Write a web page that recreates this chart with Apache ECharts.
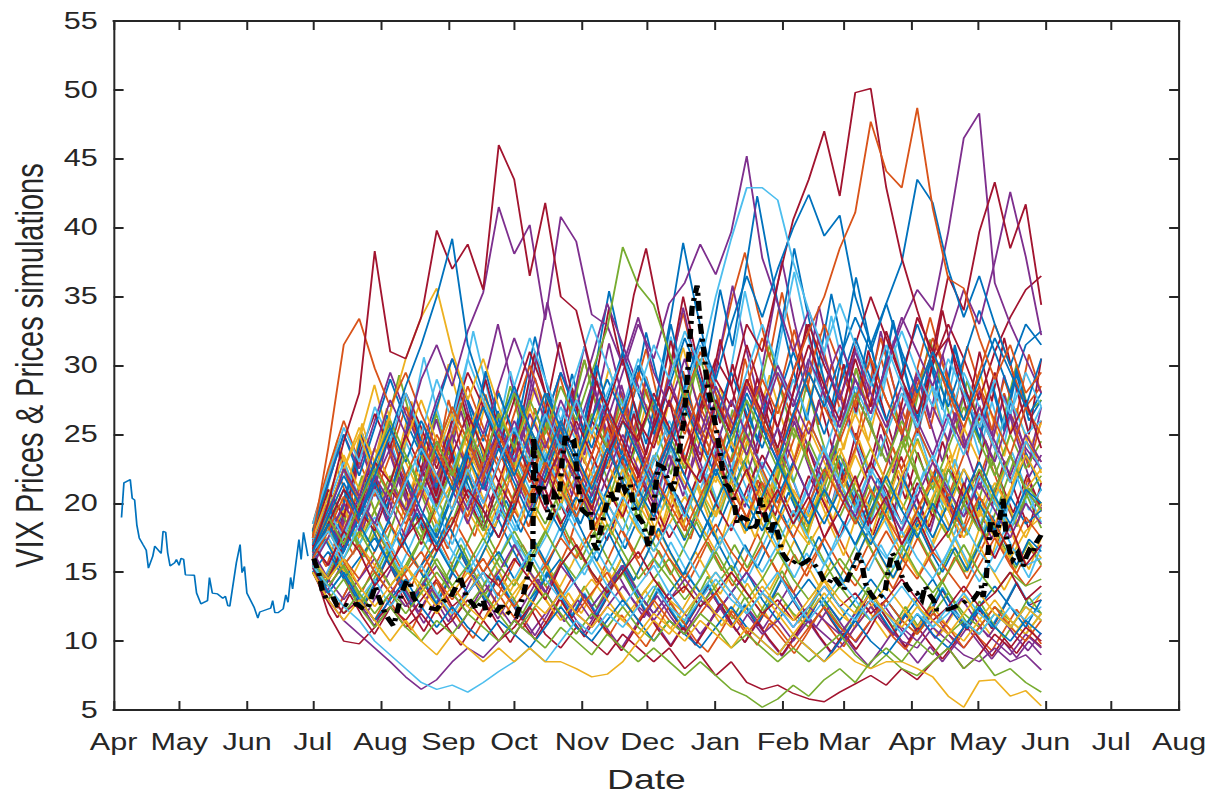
<!DOCTYPE html>
<html><head><meta charset="utf-8">
<script src="https://cdn.jsdelivr.net/npm/echarts@6/dist/echarts.min.js"></script>
<style>
html,body{margin:0;padding:0;background:#fff;overflow:hidden;width:1215px;height:798px}
#wrap{width:1215px;height:798px;overflow:hidden}
#chart{width:914px;height:798px;transform:scaleX(1.3293);transform-origin:0 0}
</style></head><body><div id="wrap"><div id="chart"></div></div>
<script>
// ---- axis ticks (days since Apr 1) ----
const monthStarts = [0,30,61,91,122,153,183,214,244,275,306,334,365,395,426,456,487];
const monthLabels = ['Apr','May','Jun','Jul','Aug','Sep','Oct','Nov','Dec','Jan','Feb','Mar','Apr','May','Jun','Jul','Aug'];
const yTicks = {min:5, max:55, step:5};

// ---- historical VIX (Apr-Jun) ----
const histDays = [3.6,4.7,7.6,8.5,9.6,10.6,11.7,13.4,14.9,15.9,17.9,18.8,21.7,22.6,23.8,24.7,25.8,27.9,28.7,29.9,30.8,32.0,32.8,36.9,37.9,39.9,42.9,43.8,45.1,47.5,49.9,51.1,52.2,53.1,56.1,57.8,58.7,59.8,60.9,64.2,65.9,66.8,71.8,72.7,73.7,75.1,77.5,78.7,79.7,80.9,81.8,84.7,85.7,86.8,88.8];
const histValues = [18.97,21.48,21.72,20.36,20.24,18.44,17.49,17.01,16.60,15.29,16.17,16.89,16.36,17.97,17.89,16.41,15.45,15.69,15.93,15.50,16.00,15.93,14.81,14.78,13.49,12.70,12.94,14.61,13.49,13.42,13.11,13.25,12.58,12.54,15.69,17.01,14.97,15.41,13.49,12.46,11.67,12.11,12.39,12.94,12.06,12.06,12.34,13.35,12.82,14.62,13.78,17.37,15.93,17.89,16.17];

// ---- realised VIX (black dash-dot) ----
const actualDays = [91.5,93.8,95.3,97.5,100.6,102.1,105.1,108.2,111.2,113.5,115.7,118.0,119.6,121.1,123.3,124.8,127.9,129.4,131.7,134.0,135.5,137.0,139.3,141.6,144.6,147.6,150.7,153.7,156.7,158.3,161.3,164.3,165.8,168.9,170.4,173.4,176.5,178.0,181.0,184.0,187.1,190.1,191.6,192.0,193.1,194.6,196.1,197.6,199.1,200.6,201.4,203.6,205.1,206.6,208.1,210.4,212.7,214.2,216.4,217.9,219.4,221.0,222.5,224.7,227.0,229.3,231.6,233.8,236.1,237.6,239.9,242.2,244.5,246.0,247.5,249.0,251.3,253.6,255.8,258.1,260.4,262.0,264.4,266.7,268.2,269.8,271.3,273.6,275.9,278.2,279.7,281.2,283.4,285.0,287.3,289.6,291.8,294.1,295.7,297.2,298.7,300.2,301.8,304.0,305.6,307.8,310.1,312.4,314.7,317.7,320.0,322.3,324.6,326.8,329.1,331.4,333.7,336.0,338.2,340.5,342.0,343.6,345.8,348.1,350.4,352.7,354.2,355.7,357.2,358.7,360.3,362.5,364.8,367.1,369.4,370.9,372.4,374.7,376.2,378.5,381.5,384.5,387.5,390.6,392.8,395.1,396.6,397.4,398.9,399.7,400.9,401.9,403.5,405.0,406.5,408.0,409.5,411.0,413.3,415.6,417.1,418.6,420.1,421.6,423.9];
const actualValues = [16.0,14.9,13.7,13.0,13.1,12.6,12.7,12.5,12.7,12.4,12.3,13.2,14.0,13.2,12.3,11.8,11.1,12.0,13.5,14.4,14.2,13.2,12.6,12.5,12.4,12.3,12.9,13.1,14.0,14.7,13.2,12.7,12.3,13.0,12.0,11.8,12.5,12.5,12.0,11.8,13.2,15.4,16.1,24.8,21.4,20.9,21.4,20.2,18.8,19.5,20.7,20.2,23.3,25.0,24.3,24.5,20.9,19.5,19.2,19.5,17.1,16.6,18.0,19.5,20.9,20.0,21.9,20.9,21.4,19.7,19.0,18.5,16.8,18.0,20.9,22.8,22.6,21.6,20.9,23.3,25.7,28.6,34.2,35.8,32.9,31.0,28.6,26.9,25.0,22.6,21.4,21.2,20.4,18.5,19.0,18.8,18.0,18.5,20.4,19.5,18.5,17.8,18.8,17.6,16.4,15.9,15.6,15.9,15.6,15.9,15.6,15.2,14.4,14.2,14.7,14.2,13.7,14.7,15.4,16.4,15.6,14.2,13.5,13.0,13.2,13.7,15.2,16.4,16.1,15.4,14.7,14.0,13.5,13.5,13.0,14.0,13.5,13.0,12.3,12.3,12.3,12.5,12.7,13.0,13.0,13.5,14.0,13.2,14.7,16.4,18.8,18.3,17.6,18.8,20.4,17.6,16.6,15.9,16.4,15.4,16.1,16.6,16.4,17.1,17.7];

// ---- simulated paths (equally spaced samples, Jul 1 -> end of May) ----
const simStartDay = 91, simEndDay = 424;
const simO1=[16.0,18.0,20.5,18.5,21.0,19.0,22.0,24.5,22.0,19.5,22.5,25.0,22.5,20.0,23.0,25.5,23.0,20.5,23.5,26.5,24.0,21.5,24.5,27.5,25.0,28.0,25.5,23.0,26.0,29.0,26.5,29.5,32.5,35.0,38.5,41.1,47.7,44.1,42.9,48.7,41.4,36.3,35.6,32.0,29.0,31.5,28.0,29.5];
const simO2=[17.5,24.0,31.5,33.4,29.8,27.0,29.5,26.5,24.0,27.0,24.5,22.0,25.0,22.5,20.5,23.0,21.0,19.0,21.5,24.0,21.5,19.5,22.0,20.0,18.0,20.5,23.0,21.0,19.0,21.5,19.5,17.5,20.0,22.5,20.5,18.5,21.0,19.0,17.0,19.5,22.0,20.0,18.0,20.5,18.5,16.5,19.0,17.5];
const simO3=[16.5,19.5,22.5,20.0,23.0,20.5,18.5,21.0,24.0,21.5,19.0,22.0,25.0,22.5,20.0,23.0,26.0,23.5,21.0,24.0,27.0,24.5,22.0,25.0,28.0,25.5,23.0,26.0,29.0,26.0,23.5,26.5,29.5,27.0,24.5,27.5,30.5,27.5,25.0,28.0,31.0,28.0,25.5,28.5,26.0,23.5,27.0,25.0];
const simO4=[15.5,14.0,15.5,17.0,15.0,13.5,15.0,16.5,14.5,13.0,14.5,16.0,14.0,12.5,14.0,15.5,13.5,12.0,13.5,15.0,13.0,11.5,13.0,11.5,10.5,12.0,13.5,12.0,10.5,12.0,11.0,9.5,11.0,12.5,11.0,10.0,11.5,13.0,11.5,10.5,12.0,11.0,9.5,11.0,12.5,11.0,10.0,11.5];
const simO5=[17.0,20.0,18.0,21.0,24.0,21.5,19.0,22.0,25.0,22.5,20.0,23.0,26.5,24.0,21.5,24.5,22.0,19.5,22.5,25.5,23.0,20.5,23.5,21.0,24.0,27.0,24.5,22.0,25.0,22.5,20.0,23.0,26.0,23.5,21.0,24.0,27.5,25.0,22.5,25.5,23.0,20.5,23.5,26.5,24.0,21.5,24.5,23.0];
const simO6=[16.0,18.0,16.0,14.5,16.5,18.5,16.5,15.0,17.0,19.0,17.0,15.0,17.0,19.5,17.5,15.5,17.5,16.0,18.0,20.0,18.0,16.0,18.0,16.0,14.5,16.5,18.5,16.5,15.0,17.0,15.0,13.5,15.5,17.5,15.5,14.0,16.0,18.0,16.0,14.5,16.5,15.0,13.5,15.5,17.5,15.5,14.0,15.5];
const simO7=[18.5,22.5,26.0,23.0,20.5,23.5,27.0,24.0,21.5,25.0,28.5,25.5,23.0,26.5,30.0,27.0,24.0,27.5,25.0,22.5,26.0,29.5,26.5,24.0,27.5,31.0,28.0,25.0,28.5,32.0,29.0,26.0,29.5,33.0,30.0,27.0,30.5,27.5,25.0,28.5,32.0,29.0,26.0,29.5,33.0,30.0,27.0,28.5];
const simO8=[16.8,19.2,22.5,19.8,24.1,21.3,26.0,23.2,20.4,25.7,22.9,27.5,24.1,21.0,23.8,28.2,25.5,22.1,26.9,24.0,29.3,26.2,23.0,21.5,25.8,23.6,27.9,31.2,27.4,24.8,29.6,26.1,23.5,27.8,25.2,30.5,27.0,24.3,28.9,32.6,29.0,25.7,30.1,27.3,24.6,28.4,32.0,28.7,26.1,29.9,33.5,30.2,27.0,31.4,28.5,25.3,29.0,26.4,30.8,28.0];
const simO9=[15.6,13.9,12.4,14.1,12.8,11.5,13.2,11.9,10.8,12.6,14.3,12.7,11.3,10.2,11.8,13.5,12.1,10.9,12.4,11.2,13.0,14.6,12.9,11.6,10.4,11.9,10.7,9.6,11.1,12.8,11.4,10.1,9.2,10.6,12.2,10.9,9.7,11.3,10.2,9.1,10.5,12.0,10.8,9.6,11.2,12.9,11.5,10.3,9.4,10.9,12.5,11.1,9.9,11.4,10.2,9.3,10.8,12.3,11.0,9.8];
const simO10=[17.2,15.4,18.1,16.3,19.4,17.5,15.8,18.6,21.1,18.9,16.7,19.8,17.6,20.7,23.4,20.8,18.3,21.5,19.2,17.1,20.3,18.0,21.6,24.2,21.3,18.8,22.1,19.6,17.4,20.5,23.3,20.6,18.2,21.7,19.3,22.8,25.6,22.4,19.7,23.0,20.4,18.1,21.2,24.1,21.4,18.9,22.3,19.8,17.5,20.6,23.5,20.9,18.6,21.8,19.4];
const simO11=[16.2,18.9,16.8,20.1,17.9,21.4,24.6,21.8,19.3,22.7,20.2,23.9,21.1,24.8,27.9,24.6,21.8,25.4,22.6,26.3,23.5,27.1,30.4,27.0,24.2,28.1,25.3,29.2,26.1,30.2,33.8,30.0,26.8,31.1,35.0,38.2,34.1,30.6,35.3,31.4,28.1,32.3,29.0,25.9,29.8,26.7,30.6,27.4,24.5,28.3,25.4,29.2,26.2,23.5,27.1,24.3,28.0,25.1,22.6,26.0];
const simO12=[16.1,14.6,16.5,15.0,13.6,15.4,17.2,15.5,14.0,15.9,17.8,16.0,14.4,16.3,14.7,13.3,15.1,17.0,15.3,13.8,15.6,17.5,15.8,14.2,16.1,18.1,16.3,14.7,16.6,15.0,13.5,15.3,17.2,15.5,14.0,15.8,17.8,16.0,14.4,16.3,14.7,16.6,18.6,16.8,15.1,17.0,15.3,13.8,15.6,17.5,15.8,14.2,16.1,14.5,16.4,18.3,16.5,14.9,16.8,15.6];
const simY1=[15.0,13.0,11.5,13.0,11.5,10.0,11.5,10.0,9.0,10.5,9.5,8.5,9.5,8.5,9.5,8.5,8.5,8.0,7.4,7.6,8.5,10.0,11.5,10.5,12.0,13.5,12.0,11.0,12.5,14.0,12.5,11.5,13.0,14.5,13.0,12.0,13.5,12.0,11.0,12.5,11.5,10.5,12.0,13.5,12.0,11.0,12.5,11.5];
const simY2=[16.0,14.5,16.0,14.0,12.5,14.0,15.5,14.0,12.5,14.0,12.5,11.5,13.0,14.5,13.0,12.0,13.5,12.0,11.0,12.5,11.5,10.5,12.0,11.0,10.0,11.5,10.5,9.5,11.0,10.0,9.0,10.5,9.5,8.5,9.5,8.5,8.0,8.5,8.5,8.0,7.4,6.0,5.2,7.1,7.2,6.0,6.4,5.3];
const simY3=[17.0,19.5,22.5,25.5,23.0,26.5,30.5,33.5,35.6,31.0,27.5,30.5,27.0,24.0,27.0,24.0,21.5,24.5,22.0,19.5,22.5,20.0,18.0,21.0,23.5,21.0,19.0,21.5,24.5,22.0,19.5,22.5,25.5,23.0,20.5,23.5,21.0,19.0,22.0,24.5,22.0,19.5,22.5,20.5,18.5,21.0,23.5,21.5];
const simY4=[16.5,19.5,22.5,25.0,22.0,25.5,23.0,20.5,23.5,26.5,24.0,21.5,24.5,22.0,25.0,28.0,25.0,22.5,25.5,23.0,20.5,23.5,21.0,24.0,27.0,24.0,21.5,24.5,22.0,19.5,22.5,25.5,23.0,20.5,23.5,26.5,24.0,21.5,24.5,22.0,19.5,22.5,25.5,23.0,20.5,23.5,21.0,22.5];
const simY5=[17.5,20.5,23.5,21.0,24.0,21.5,24.5,27.5,24.5,22.0,25.0,28.0,25.0,22.5,25.5,23.0,20.5,23.0,21.0,23.5,26.0,23.5,21.0,23.5,21.5,19.5,22.0,20.0,22.5,20.5,18.5,21.0,19.0,21.5,24.0,21.5,19.5,22.0,20.0,18.0,20.5,23.0,21.0,19.0,21.5,19.5,17.5,20.0];
const simY6=[15.5,14.0,15.5,17.0,15.5,14.0,15.5,13.5,12.0,13.5,15.0,13.5,12.0,13.5,15.0,13.0,11.5,13.0,14.5,13.0,11.5,13.0,14.5,13.0,12.0,13.5,15.0,13.5,12.0,13.5,12.0,10.5,12.0,13.5,12.0,11.0,12.5,14.0,12.5,11.0,12.5,11.0,10.0,11.5,13.0,11.5,10.5,12.0];
const simY7=[16.0,17.5,19.5,17.5,19.5,21.5,19.5,17.5,19.5,21.5,19.5,17.5,20.0,22.5,20.0,18.0,20.0,22.0,20.0,18.0,20.0,18.0,16.5,18.5,20.5,18.5,16.5,18.5,20.5,18.5,16.5,18.5,17.0,19.0,21.0,19.0,17.0,19.0,17.5,19.5,21.5,19.5,17.5,19.5,17.5,16.0,18.0,19.0];
const simY8=[16.4,18.3,20.7,18.4,21.2,18.9,16.9,19.5,22.3,19.8,17.6,20.4,23.2,20.6,18.3,21.0,18.7,21.6,24.5,21.8,19.4,22.3,19.9,17.7,20.5,23.4,20.8,18.5,21.3,24.2,21.6,19.2,22.1,19.7,17.5,20.2,23.1,20.6,18.3,21.1,18.8,21.7,24.6,21.9,19.5,22.4,20.0,17.8,20.6,23.5,20.9,18.6,21.4,19.1,22.0,24.9,22.2];
const simY9=[17.0,20.6,24.3,21.5,25.8,22.9,26.9,23.8,27.4,24.4,21.7,25.1,22.3,26.0,23.1,20.6,24.0,21.4,18.9,22.1,19.6,23.0,20.5,18.2,21.3,18.9,22.2,19.7,17.5,20.6,18.3,21.5,19.1,17.0,20.0,17.8,20.9,18.6,16.6,19.5,17.4,20.4,18.2,16.2,19.0,16.9,19.9,17.7,15.8,18.6,16.6,19.5,17.4,15.5,18.2,16.2,19.1,17.0,15.2,17.5];
const simY10=[15.8,17.6,15.9,14.3,16.1,17.9,16.1,14.5,16.3,14.7,16.5,18.4,16.6,14.9,16.8,15.1,13.6,15.3,17.1,15.4,13.9,15.6,17.5,15.8,14.2,16.0,14.4,16.2,18.1,16.3,14.7,16.5,14.9,13.4,15.1,16.9,15.2,13.7,15.4,17.3,15.6,14.0,15.8,14.2,16.0,17.9,16.1,14.5,16.3,14.7,16.5,18.5,16.7,15.0,16.9,15.2,13.7,15.4,17.2,16.0];
const simY11=[18.1,21.3,24.6,21.9,25.3,28.6,25.2,22.4,25.9,23.0,26.6,30.1,26.7,23.7,27.3,24.3,21.6,25.0,28.4,25.2,22.4,25.8,22.9,26.4,29.8,26.5,23.6,27.2,24.2,27.9,31.3,27.8,24.7,28.4,25.3,22.5,25.9,29.3,26.1,23.2,26.7,30.2,26.9,23.9,27.5,24.5,28.2,31.6,28.1,25.0,28.7,25.5,22.7,26.2,29.6,26.3,23.4,26.9,24.0,25.8];
const simY12=[16.0,14.3,16.1,14.4,12.8,14.5,16.3,14.5,12.9,14.6,13.0,11.6,13.2,14.9,13.3,11.8,13.4,15.1,13.4,11.9,13.5,12.0,13.6,15.3,13.6,12.1,13.7,12.2,10.9,12.4,14.0,12.5,11.1,12.6,14.2,12.6,11.2,12.7,11.3,12.8,14.4,12.8,11.4,12.9,11.5,10.2,11.6,13.1,11.7,10.4,11.8,13.3,11.8,10.5,11.9,10.6,12.0,13.5];
const simP1=[16.5,19.0,22.5,20.5,24.0,27.5,25.0,29.0,31.5,28.5,32.5,35.3,41.5,38.1,40.2,33.3,40.8,39.0,33.7,32.9,30.0,33.5,29.5,27.0,30.5,26.5,24.0,27.5,25.0,22.5,25.5,23.0,20.5,23.5,21.0,19.0,22.0,20.0,18.0,20.5,23.0,21.0,19.0,21.5,19.5,17.5,20.0,18.5];
const simP2=[17.0,15.5,18.0,20.5,18.5,21.5,19.5,22.0,24.5,22.0,19.5,22.5,25.5,23.0,26.5,24.0,27.5,25.0,28.5,26.0,29.5,33.0,30.5,34.5,36.0,38.8,36.6,39.7,45.2,37.8,34.5,31.0,34.0,30.5,27.5,31.0,28.0,25.5,28.5,26.0,23.5,26.5,24.0,27.0,24.5,22.0,25.0,23.0];
const simP3=[16.0,18.5,16.5,19.5,22.0,20.0,17.5,20.5,23.5,21.0,18.5,21.5,24.5,22.0,19.5,22.5,25.5,23.0,20.5,23.5,26.5,24.0,21.5,24.5,27.5,25.0,28.5,26.0,23.5,27.0,30.0,27.5,25.0,28.5,31.5,29.0,26.5,30.0,33.0,35.5,34.0,39.7,46.5,48.3,36.0,33.0,30.5,28.0];
const simP4=[15.5,17.5,20.0,18.0,21.5,24.0,21.5,19.0,22.0,25.0,22.5,20.0,23.0,26.0,23.5,21.0,24.0,21.5,19.0,22.0,25.0,22.5,20.0,23.5,21.0,24.5,27.5,25.0,28.5,26.0,29.5,27.0,30.5,28.0,25.5,29.0,26.5,30.0,33.5,31.0,28.5,32.0,35.5,33.0,37.5,42.6,37.9,32.2];
const simP5=[15.0,13.0,11.5,10.5,9.5,8.5,7.4,6.5,7.2,8.5,9.5,8.8,10.0,11.5,10.5,12.0,13.5,12.0,11.0,12.5,14.0,12.5,11.5,13.0,14.5,13.0,12.0,13.5,15.0,13.5,12.5,11.0,12.5,11.5,10.5,12.0,13.5,12.0,11.0,10.0,11.5,10.5,9.5,11.0,10.0,9.0,10.5,9.5];
const simP6=[16.5,14.5,13.0,14.5,16.0,14.0,12.5,14.0,15.5,13.5,12.0,13.5,15.0,17.0,15.0,13.5,15.5,14.0,12.5,14.0,15.5,13.5,12.0,13.5,12.0,10.5,12.0,13.5,12.0,10.5,11.5,10.0,11.5,10.5,9.5,11.0,12.5,11.0,10.0,9.5,11.0,10.0,9.0,8.5,9.5,8.5,9.0,7.9];
const simP7=[18.0,21.5,25.0,22.5,26.0,29.5,26.5,24.0,27.5,30.5,27.5,25.0,28.5,32.0,29.0,26.0,29.5,27.0,30.5,34.5,31.5,28.5,25.5,29.0,26.0,23.5,27.0,24.5,22.0,25.5,23.0,26.5,24.0,21.5,25.0,28.0,25.5,23.0,26.5,29.5,27.0,24.5,28.0,25.5,23.0,26.5,24.0,22.5];
const simP8=[16.9,19.7,17.5,20.6,23.8,21.1,18.7,21.9,19.4,22.8,26.1,23.1,20.5,23.9,21.2,18.8,22.0,25.3,22.4,19.9,23.2,20.6,24.0,27.4,24.3,21.5,25.0,22.2,19.7,23.0,26.4,23.4,20.8,24.2,21.5,25.0,28.5,25.2,22.4,26.0,23.1,20.5,23.9,27.3,24.2,21.5,25.0,22.2,25.8,29.2,25.9,23.0,26.6,23.6,21.0,24.4,27.8,24.7,21.9,23.5];
const simP9=[15.3,13.5,15.2,13.4,11.9,13.6,15.4,13.7,12.1,13.8,12.3,10.9,12.5,14.2,12.6,11.2,12.8,14.5,12.9,11.4,13.0,11.6,13.2,14.9,13.2,11.7,13.3,11.8,10.5,12.0,13.6,12.1,10.7,12.2,10.9,12.4,14.0,12.4,11.0,12.5,11.1,9.9,11.3,12.8,11.4,10.1,11.5,10.2,11.6,13.1,11.6,10.3,11.7,10.4,9.3,10.6];
const simP10=[17.3,20.5,18.1,21.7,25.0,22.0,19.5,23.1,26.8,23.7,21.0,24.8,28.5,25.2,29.2,33.0,29.1,25.7,29.9,34.6,30.6,27.1,31.4,27.8,24.6,28.6,25.3,22.4,26.1,23.1,20.5,24.0,21.3,25.0,22.2,19.7,23.1,20.5,24.1,21.4,19.0,22.3,19.8,23.3,20.7,18.4,21.6,19.2,22.6,20.1,17.9,21.0,18.7,22.0,19.6,17.4,20.5,18.3,21.5,19.8];
const simP11=[16.7,19.4,17.2,20.2,17.9,21.0,24.3,21.5,19.1,22.3,19.8,23.1,26.7,23.6,20.9,24.4,21.6,25.3,29.1,25.8,22.8,26.6,23.5,27.5,31.6,27.9,24.7,28.9,25.5,29.8,34.2,30.2,26.7,31.2,35.8,31.6,27.9,32.7,37.6,33.2,29.3,34.3,30.3,26.8,31.4,27.7,32.5,28.7,25.3,29.7,26.2,30.8,27.2,24.0,28.2,24.9,29.3,25.9,22.9,27.0];
const simP12=[15.8,14.0,12.4,14.1,12.5,11.1,12.7,14.5,12.8,11.3,12.9,11.4,13.0,14.8,13.1,11.6,13.2,11.7,10.4,11.9,13.6,12.0,10.6,12.1,10.7,9.5,10.9,12.4,11.0,9.7,11.1,9.8,11.2,12.7,11.2,9.9,11.3,10.0,8.9,10.2,11.6,10.3,9.1,10.4,9.2,8.2,9.4,10.7,9.5,8.4,9.6,8.5,9.7,11.0,9.8,8.7,9.9,8.8,10.0,9.0];
const simG1=[16.5,19.0,17.0,20.0,22.5,20.5,23.5,21.0,24.5,22.0,25.5,23.0,26.5,24.0,27.5,25.0,28.5,26.0,29.5,32.7,38.6,35.8,34.4,31.0,27.5,30.5,27.0,24.5,27.5,25.0,22.5,25.5,23.0,20.5,23.5,21.0,19.0,22.0,24.5,22.0,19.5,22.5,20.0,18.0,21.0,23.5,21.0,19.5];
const simG2=[15.0,13.0,14.5,12.5,11.0,12.5,11.0,10.0,11.5,10.5,12.0,11.0,10.0,11.5,10.5,9.5,11.0,10.0,9.0,10.5,9.5,8.5,9.5,8.5,7.5,8.5,7.5,6.5,6.0,5.2,5.8,6.8,6.0,7.2,8.0,7.0,8.5,9.5,8.5,10.0,9.0,10.5,11.5,10.5,12.0,11.0,12.5,11.5];
const simG3=[15.5,14.0,15.5,13.5,12.0,13.5,12.0,13.5,15.0,13.5,12.0,13.5,12.0,10.5,12.0,13.5,12.0,10.5,12.0,11.0,12.5,11.0,10.0,11.5,10.5,12.0,11.0,9.5,10.5,9.5,8.5,9.5,8.5,9.5,10.5,9.0,8.0,9.0,8.0,7.5,8.5,9.5,8.0,9.0,7.5,8.0,7.0,6.3];
const simG4=[17.0,19.5,22.5,20.0,23.0,26.0,23.5,21.0,24.0,27.0,24.5,22.0,25.0,28.0,25.0,22.5,25.5,23.0,26.5,24.0,21.5,24.5,27.5,25.0,22.5,25.5,23.0,20.5,23.5,26.5,24.0,21.5,24.5,22.0,25.0,28.0,25.5,23.0,26.0,23.5,21.0,24.0,27.0,24.5,22.0,25.0,22.5,24.5];
const simG5=[16.0,14.5,16.0,18.0,16.0,14.0,15.5,17.5,15.5,14.0,15.5,17.5,15.5,14.0,16.0,18.0,16.0,14.5,16.5,18.5,16.5,14.5,16.0,14.5,13.0,14.5,16.5,14.5,13.0,14.5,16.5,14.5,13.0,14.5,16.0,14.5,13.0,15.0,17.0,15.0,13.5,15.0,17.0,15.0,13.5,15.0,14.0,14.5];
const simG6=[18.0,21.0,19.0,17.0,19.5,22.0,19.5,17.5,20.0,22.5,20.0,18.0,20.5,23.0,20.5,18.5,21.0,19.0,21.5,24.0,21.5,19.0,21.5,19.5,17.5,20.0,22.5,20.0,18.0,20.5,23.0,20.5,18.5,21.0,19.0,21.5,24.0,21.5,19.5,22.0,19.5,17.5,20.0,22.5,20.0,18.0,20.5,22.0];
const simG7=[15.5,13.5,12.0,13.5,15.0,13.5,12.5,14.0,16.0,14.0,12.5,14.0,16.0,18.0,16.0,14.0,15.5,17.0,15.0,13.5,15.0,13.0,14.5,16.0,14.0,12.5,14.0,15.5,13.5,12.0,13.5,12.0,11.0,12.5,14.0,12.5,11.5,13.0,11.5,10.5,12.0,13.5,12.0,11.0,12.5,11.5,10.5,12.0];
const simG8=[16.5,18.8,16.7,19.2,22.0,19.5,17.3,19.9,22.8,20.2,17.9,20.6,23.6,20.9,18.5,21.3,18.9,21.7,24.8,22.0,19.5,22.4,19.9,17.6,20.3,23.2,20.6,18.2,21.0,24.0,21.3,18.9,21.7,19.2,22.1,25.2,22.3,19.8,22.8,20.2,17.9,20.6,23.6,20.9,18.5,21.3,18.9,21.8,24.9,22.1,19.6,22.5,20.0,17.7,20.4,23.3,20.7,18.3,21.1,20.0];
const simG9=[15.9,17.9,19.9,17.9,16.1,18.1,16.3,14.7,16.5,18.5,16.7,15.0,16.9,19.0,17.1,15.4,17.3,15.6,17.5,19.6,17.6,15.9,17.9,16.1,14.5,16.3,18.3,16.5,14.8,16.7,18.7,16.8,15.1,17.0,15.3,17.2,19.3,17.4,15.6,17.6,15.8,14.2,16.0,17.9,16.1,14.5,16.3,18.3,16.5,14.8,16.7,15.0,16.9,18.9,17.0,15.3,17.2,15.5];
const simG10=[17.8,20.9,24.2,21.4,24.9,22.0,25.6,29.3,25.9,22.9,26.5,23.5,27.3,24.1,21.4,24.8,28.5,25.2,22.3,25.9,22.9,26.6,30.4,26.9,23.8,27.6,24.4,28.3,25.0,22.1,25.7,29.5,26.1,23.1,26.8,23.7,27.5,31.5,27.9,24.7,28.6,25.3,22.4,26.0,29.8,26.4,23.4,27.1,24.0,27.8,31.9,28.2,25.0,28.9,25.6,22.7,26.3,30.1,26.6,27.5];
const simG11=[16.1,14.3,16.2,14.4,12.8,14.6,16.5,14.7,13.0,14.8,13.1,15.0,17.0,15.1,13.4,15.2,13.5,12.0,13.7,15.6,13.8,12.3,14.0,12.4,14.1,16.0,14.2,12.6,14.3,12.7,11.3,12.9,14.7,13.0,11.6,13.2,11.7,13.3,15.1,13.4,11.9,13.5,12.0,10.7,12.2,13.9,12.3,11.0,12.5,11.1,12.6,14.3,12.7,11.3,12.9,11.4,10.2,11.6,13.2,12.0];
const simG12=[16.6,19.0,16.9,19.4,17.2,19.8,22.7,20.1,17.8,20.5,18.2,21.0,24.0,21.3,18.9,21.7,19.3,22.2,25.3,22.4,19.9,22.9,20.3,18.0,20.7,23.7,21.0,18.6,21.4,19.0,21.9,25.0,22.2,19.7,22.6,20.0,17.8,20.5,23.4,20.8,18.4,21.2,18.8,21.6,24.7,21.9,19.4,22.3,19.8,17.6,20.2,23.1,20.5,18.2];
const simL1=[16.5,18.0,16.0,18.5,21.0,19.0,21.5,24.0,22.0,19.5,22.5,20.0,23.0,25.5,23.0,26.5,24.0,27.5,25.0,28.0,30.5,28.0,31.5,29.0,32.5,30.0,35.0,39.2,42.9,42.9,42.0,37.5,34.0,31.0,34.5,31.5,28.5,31.5,28.5,25.5,28.5,26.0,23.5,26.5,24.0,21.5,24.5,22.5];
const simL2=[15.5,14.0,12.5,11.5,10.0,9.0,8.0,7.0,6.5,6.8,6.3,7.0,7.8,8.5,9.5,8.5,10.0,11.5,10.5,12.0,11.0,12.5,14.0,12.5,11.5,13.0,14.5,13.0,12.0,13.5,12.5,11.0,12.5,14.0,12.5,11.5,13.0,12.0,10.5,12.0,11.0,12.5,11.5,10.5,12.0,11.0,12.5,11.5];
const simL3=[17.0,19.5,17.5,20.5,18.5,16.5,19.0,21.5,19.5,17.0,20.0,22.5,20.0,18.0,21.0,23.5,21.0,19.0,22.0,20.0,18.0,21.0,23.5,21.5,19.0,22.0,24.5,22.0,20.0,23.0,21.0,18.5,21.5,24.0,21.5,19.5,22.5,20.5,18.5,21.0,23.5,21.0,19.0,22.0,20.0,18.0,21.0,19.5];
const simL4=[15.0,13.5,15.0,13.0,14.5,12.5,14.0,15.5,13.5,12.0,13.5,15.0,13.0,14.5,16.5,14.5,13.0,14.5,16.0,14.0,12.5,14.0,15.5,13.5,12.0,13.5,15.0,13.5,12.0,13.5,15.0,13.0,11.5,13.0,14.5,13.0,11.5,12.5,14.0,12.5,11.0,12.0,13.5,12.0,11.0,12.5,11.5,12.5];
const simL5=[18.5,22.0,25.5,23.0,27.0,24.5,28.0,25.0,29.0,26.0,30.5,27.5,24.5,28.5,32.0,29.0,26.0,29.5,33.0,30.0,27.0,30.5,27.5,24.5,28.0,31.5,28.5,26.0,29.5,33.0,30.0,27.0,30.5,27.5,25.0,28.5,26.0,29.5,32.5,29.5,27.0,30.5,28.0,25.5,29.0,26.5,29.5,27.0];
const simL6=[16.0,17.5,15.5,17.0,19.0,17.0,15.0,16.5,18.5,16.5,15.0,17.0,19.5,17.5,15.5,17.5,20.0,18.0,16.0,18.0,20.5,18.5,16.5,18.5,16.5,14.5,16.5,18.5,16.5,15.0,17.0,19.5,17.5,15.5,17.5,19.5,17.5,16.0,18.0,16.0,14.5,16.5,18.5,16.5,15.0,17.0,15.5,16.0];
const simL7=[17.5,20.0,23.0,20.5,18.5,21.5,24.5,22.0,19.5,22.5,25.5,23.0,20.5,23.5,21.0,24.0,27.0,24.5,22.0,25.0,22.5,20.0,23.0,26.0,23.5,21.0,24.0,27.5,25.0,22.5,25.5,29.0,26.0,23.5,27.0,24.5,22.0,25.0,28.0,25.5,23.0,26.0,29.5,27.0,24.0,27.5,25.0,26.0];
const simL8=[17.4,20.4,23.8,21.0,24.5,21.7,25.4,22.5,26.2,30.6,27.0,23.9,27.9,32.5,28.7,25.3,29.6,26.1,23.1,27.0,23.8,21.1,24.6,21.8,25.5,22.5,19.9,23.3,20.6,24.1,21.3,18.9,22.1,19.5,22.8,26.6,23.5,20.8,24.3,21.5,19.0,22.2,19.7,23.0,20.4,18.0,21.1,18.7,21.8,25.4,22.5,19.9,23.2,20.5,18.2,21.3,18.8,22.0,19.5,21.0];
const simL9=[16.2,14.7,16.6,18.6,16.7,15.0,16.9,15.2,17.1,19.2,17.3,15.6,17.5,15.7,14.1,15.9,17.8,16.0,14.4,16.2,18.2,16.4,14.8,16.6,15.0,16.8,18.9,17.0,15.3,17.2,15.5,13.9,15.7,17.6,15.8,14.2,16.0,18.0,16.2,14.6,16.4,14.8,16.6,18.7,16.8,15.1,17.0,15.3,17.2,19.3,17.4,15.6,17.6,15.8,14.3,16.0,18.0,16.2,14.6,16.9];
const simL10=[16.3,18.5,16.4,18.8,21.5,19.0,16.9,19.4,17.2,19.7,22.6,20.0,17.7,20.3,18.0,20.7,23.7,21.0,18.6,21.3,18.9,21.7,24.8,22.0,19.5,22.4,19.8,17.6,20.2,23.1,20.5,18.1,20.8,18.4,21.1,24.2,21.4,19.0,21.8,19.3,17.1,19.6,22.5,19.9,17.7,20.3,18.0,20.7,23.7,21.0,18.6];
const simL11=[17.0,19.9,17.6,20.7,18.3,21.5,25.1,22.2,19.7,23.0,20.4,23.9,27.8,24.6,21.8,25.5,22.6,26.4,30.7,27.2,24.1,28.1,24.9,29.1,25.8,22.8,26.7,23.6,27.6,32.1,28.4,25.2,29.4,26.0,30.4,35.4,31.3,27.7,32.4,36.8,32.6,28.8,33.6,29.7,26.3,30.7,27.2,31.8,28.1,24.9,29.0,25.7,30.0,26.5,23.5,27.4,24.3,28.4,25.1,27.0];
const simL12=[15.9,14.1,15.9,14.1,12.5,14.2,16.1,14.3,12.7,14.4,12.8,14.5,16.5,14.6,13.0,14.8,13.1,11.7,13.3,15.1,13.4,11.9,13.5,12.0,13.7,15.5,13.8,12.2,13.9,12.3,11.0,12.5,14.2,12.6,11.2,12.7,11.3,12.9,14.6,13.0,11.5,13.1,11.6,10.4,11.8,13.4,11.9,10.6,12.0,10.7,12.2,13.9,12.3,11.0,12.5,11.1,12.6,14.3,12.7,13.5];
const simR1=[16.5,20.0,24.5,28.0,38.3,31.0,30.5,33.5,39.8,37.0,38.8,35.5,46.0,43.5,36.5,41.8,35.0,34.0,29.5,27.0,30.5,26.0,24.0,27.5,23.0,21.5,24.5,20.0,22.5,19.0,21.0,18.5,20.5,17.5,19.5,22.0,18.5,20.5,17.0,19.0,16.5,18.0,21.5,18.5,16.0,18.5,15.5,17.0];
const simR2=[17.0,15.5,18.0,16.5,14.0,15.5,17.5,19.0,16.5,18.5,21.0,19.5,17.5,20.5,23.0,21.5,24.0,22.0,19.5,23.5,26.0,24.5,28.0,25.5,23.0,27.0,30.5,28.5,33.0,31.0,36.0,40.6,43.5,47.0,42.3,49.8,50.1,42.9,37.8,34.0,30.5,32.0,28.5,26.0,29.5,25.0,27.5,24.0];
const simR3=[16.0,18.5,21.0,19.5,23.0,21.5,25.0,22.5,20.0,23.5,26.5,24.0,21.5,25.0,22.0,19.5,23.0,26.0,23.5,27.0,24.5,22.0,25.5,28.5,26.0,23.0,27.5,25.0,29.0,26.5,24.0,28.0,31.5,28.5,26.0,30.5,27.0,32.5,29.0,33.5,31.0,36.5,34.0,39.7,43.3,38.5,41.7,34.4];
const simR4=[15.0,13.5,12.0,13.0,11.5,12.5,11.0,12.0,10.5,11.5,13.0,11.5,10.0,11.0,12.5,10.5,9.5,11.0,10.0,9.0,10.5,9.5,8.5,9.5,8.0,9.0,7.5,8.5,7.0,6.5,6.8,6.2,5.8,5.6,6.3,6.9,7.5,6.8,8.0,7.2,8.5,9.5,8.0,9.0,10.5,9.5,11.0,10.0];
const simR5=[15.5,12.0,10.0,9.8,11.0,12.5,11.5,13.0,14.5,12.5,13.5,15.0,14.0,16.0,14.5,13.0,15.5,17.0,15.0,13.5,15.0,16.5,14.5,13.0,14.0,12.5,13.5,15.0,13.5,12.0,13.0,11.5,12.5,14.0,12.5,13.5,12.0,13.0,14.5,13.0,11.5,12.5,14.0,12.5,13.5,15.0,13.0,14.0];
const simR6=[17.5,21.0,19.0,23.5,26.5,24.0,28.0,25.5,22.5,26.0,29.5,27.0,24.0,27.5,31.0,28.0,25.0,22.5,26.0,24.0,21.5,25.0,27.5,24.5,22.0,26.5,29.0,27.0,31.5,28.0,25.5,29.5,33.0,30.0,27.5,31.5,35.0,32.0,29.0,26.5,30.0,33.0,30.5,27.5,31.0,33.5,35.5,36.5];
const simR7=[16.0,14.5,17.0,19.5,18.0,21.0,19.5,17.0,20.0,22.5,20.5,18.0,21.5,19.5,23.0,21.0,18.5,20.5,23.5,21.0,19.0,22.0,20.0,17.5,19.5,22.5,20.0,18.0,21.0,23.5,21.5,19.0,22.0,20.0,17.5,20.5,23.0,21.0,18.5,21.5,19.0,22.5,20.5,18.0,21.0,23.5,21.0,19.5];
const simR8=[17.6,20.7,24.1,21.3,24.8,21.9,19.4,22.7,26.4,23.4,20.7,24.2,21.4,25.0,29.0,25.6,22.7,26.5,23.4,27.3,31.7,28.0,24.8,28.9,25.6,22.7,26.5,23.5,27.4,31.8,28.2,24.9,29.1,25.8,30.1,26.6,23.6,27.5,24.3,28.4,33.0,29.2,25.8,30.1,26.6,31.1,27.5,24.4,28.4,25.1,29.3,34.0,30.1,26.6,31.0,27.4,32.0,28.3,25.0,30.5];
const simR9=[15.0,13.2,11.7,13.4,11.8,10.5,12.0,13.7,12.1,10.7,12.3,10.9,9.7,11.1,12.7,11.2,9.9,11.4,10.1,11.5,13.1,11.6,10.3,11.8,10.5,9.3,10.7,12.2,10.8,9.6,11.0,9.7,11.1,12.7,11.2,9.9,11.4,10.1,9.0,10.3,11.8,10.4,9.2,10.6,9.4,10.7,12.3,10.9,9.6,11.0,9.8,8.7,9.9,11.4,10.1,8.9,10.2,9.1,10.4,9.6];
const simR10=[16.7,19.1,16.9,19.5,22.3,19.7,17.5,20.1,17.8,20.4,23.4,20.7,18.3,21.0,18.6,21.4,24.5,21.7,19.2,22.0,19.5,17.3,19.9,22.8,20.2,17.9,20.6,18.2,20.9,24.0,21.3,18.8,21.6,19.1,21.9,25.1,22.2,19.7,22.6,20.0,17.7,20.4,23.4,20.7,18.3,21.1,18.7,21.5,24.6,21.8,19.3,22.1,19.6];
const simR11=[17.1,20.0,17.7,20.8,18.4,21.6,25.3,22.4,19.8,23.2,20.5,24.0,27.9,24.7,21.9,25.6,22.7,26.6,31.0,27.4,24.3,28.4,25.1,29.4,34.2,30.2,35.1,38.5,34.0,30.1,35.0,31.0,27.4,31.9,28.2,25.0,29.1,25.8,22.8,26.6,23.6,27.5,24.3,21.5,25.1,22.2,25.9,22.9,20.3,23.7,21.0,24.5,21.7,19.2,22.4,19.8,23.1,20.5,18.1,21.5];
const simR12=[15.7,13.9,15.7,13.9,12.3,14.0,15.9,14.1,12.5,14.2,12.6,14.3,16.3,14.5,12.8,14.6,12.9,11.5,13.1,14.9,13.2,11.7,13.3,11.8,13.4,15.3,13.6,12.0,13.7,12.1,10.8,12.3,14.0,12.4,11.0,12.6,11.1,12.7,14.5,12.8,11.4,13.0,11.5,10.2,11.6,13.3,11.8,10.4,11.9,10.6,12.0,13.7,12.2,10.8,12.3,10.9,12.5,14.2,12.6,13.0];
const simB1=[16.5,19.0,21.5,19.0,22.0,25.0,28.5,31.5,35.0,39.2,31.5,28.0,25.5,28.5,25.5,23.0,26.0,23.5,21.0,24.0,21.5,19.5,22.0,24.5,22.0,19.5,22.5,20.0,18.0,20.5,23.0,20.5,18.5,21.0,19.0,17.0,19.5,22.0,19.5,17.5,20.0,18.0,20.5,23.0,20.5,18.5,21.0,20.0];
const simB2=[17.0,19.5,22.0,20.0,23.0,25.5,23.0,26.0,23.5,21.0,24.0,27.0,24.5,22.0,25.0,28.0,25.5,23.0,26.0,29.0,26.5,30.0,27.5,25.0,28.5,32.0,29.0,33.0,36.5,33.5,37.0,40.0,42.4,39.4,40.9,35.0,31.5,34.5,31.0,28.0,31.0,28.5,26.0,29.0,32.0,29.5,27.0,30.5];
const simB3=[16.0,18.5,16.5,19.0,21.5,19.0,22.0,19.5,17.5,20.5,23.5,21.0,24.0,21.5,19.0,22.0,25.0,22.5,20.0,23.0,26.0,23.5,21.0,24.0,27.0,24.5,22.0,25.0,28.0,25.5,23.0,26.5,29.5,27.0,30.5,33.5,31.0,34.5,37.5,43.5,41.8,37.0,33.5,36.5,33.0,30.0,33.0,31.5];
const simB4=[15.5,13.5,15.0,13.0,11.5,13.0,14.5,12.5,11.0,12.5,11.0,10.0,11.5,10.5,9.5,11.0,12.5,11.0,10.0,11.5,13.0,11.5,10.0,11.5,10.5,9.5,11.0,12.5,11.0,10.0,9.0,10.5,9.5,8.5,10.0,11.5,10.0,9.0,10.5,12.0,10.5,9.5,11.0,12.5,11.0,10.0,11.5,10.5];
const simB5=[16.5,18.5,21.0,18.5,16.5,19.0,21.5,19.0,17.0,19.5,22.0,19.5,17.5,20.0,22.5,20.0,18.0,20.5,18.5,21.0,23.5,21.0,19.0,21.5,19.5,17.5,20.0,22.5,20.0,18.0,20.5,23.0,20.5,18.5,21.0,19.0,17.0,19.5,22.0,19.5,17.5,20.0,22.5,20.0,18.0,20.5,18.5,19.5];
const simB6=[18.0,21.5,25.0,22.0,25.5,29.0,26.0,23.5,27.0,30.5,27.5,24.5,28.0,25.0,22.5,26.0,29.5,26.5,24.0,27.5,31.0,28.0,25.0,28.5,32.0,29.0,26.0,29.5,26.5,24.0,27.5,31.0,28.0,25.0,28.5,32.0,29.0,26.0,29.5,33.0,30.0,27.0,30.5,34.0,31.0,28.0,31.5,32.5];
const simB7=[15.0,16.5,14.5,16.0,17.5,15.5,14.0,15.5,17.0,15.0,13.5,15.0,16.5,14.5,13.0,14.5,16.0,14.0,12.5,14.0,15.5,13.5,12.0,13.5,15.0,13.5,12.0,13.5,15.0,13.0,11.5,13.0,14.5,13.0,11.5,13.0,14.5,13.0,11.5,13.0,14.5,12.5,11.0,12.5,14.0,12.5,11.0,13.0];
const simB8=[17.5,20.6,18.2,21.5,25.1,22.2,19.7,23.0,26.9,23.8,21.1,24.6,21.8,25.5,29.6,26.2,23.2,27.1,24.0,28.0,24.8,22.0,25.7,30.0,26.5,23.5,27.4,24.3,28.4,33.0,29.2,25.9,30.2,26.7,23.7,27.7,24.5,28.6,33.2,29.4,26.0,30.4,26.9,31.4,36.4,32.2,28.5,33.3,29.5,26.1,30.5,27.0,31.5,27.9,24.7,28.8,25.5,29.8,26.4,28.0];
const simB9=[15.6,17.4,15.7,17.7,19.8,17.8,16.0,18.0,16.2,14.6,16.4,18.4,16.6,14.9,16.8,18.9,17.0,15.3,17.2,15.5,17.4,19.5,17.6,15.8,17.8,16.0,14.4,16.2,18.2,16.4,14.8,16.6,18.7,16.8,15.1,17.0,15.3,17.2,19.3,17.4,15.6,17.6,15.8,14.3,16.0,18.0,16.2,14.6,16.4,18.5,16.6,15.0,16.8,15.1,17.0,19.1,17.2,15.5,17.4,16.5];
const simB10=[16.2,18.4,16.3,18.7,21.4,18.9,16.8,19.3,17.1,19.6,22.5,19.9,17.6,20.2,17.9,20.6,23.6,20.9,18.5,21.2,18.8,16.7,19.2,22.0,19.5,17.3,19.8,17.6,20.2,23.1,20.5,18.1,20.8,18.4,21.1,24.2,21.4,19.0,21.8,19.3,17.1,19.6,22.5,19.9,17.7,20.3,18.0,20.6,23.6,20.9];
const simB11=[17.9,21.0,18.6,21.8,19.3,22.7,26.4,23.4,20.7,24.2,21.4,25.0,29.1,25.8,22.8,26.7,23.6,27.6,32.1,28.4,25.2,29.4,26.0,30.4,35.4,31.3,27.7,32.4,28.7,33.5,38.9,34.4,30.5,35.5,31.4,36.6,42.3,37.4,33.1,38.5,34.1,30.2,35.2,31.1,27.6,32.1,28.4,33.1,29.3,25.9,30.2,26.8,31.2,27.6,24.4,28.5,25.2,29.4,26.0,27.5];
const simB12=[15.8,14.0,15.8,14.0,12.4,14.1,16.0,14.2,12.6,14.3,12.7,14.4,16.4,14.5,12.9,14.7,13.0,11.6,13.2,15.0,13.3,11.8,13.4,11.9,13.5,15.4,13.7,12.1,13.8,12.2,10.9,12.4,14.1,12.5,11.1,12.6,11.2,12.8,14.5,12.9,11.4,13.0,11.6,10.3,11.7,13.4,11.9,10.5,12.0,10.7,12.1,13.8,12.2,10.9,12.4,11.0,12.5,14.2,12.6,12.0];

const simGroups = [
  ['#D95319',[simO1,simO2,simO3,simO4,simO5,simO6,simO7,simO8,simO9,simO10,simO11,simO12]],
  ['#EDB120',[simY1,simY2,simY3,simY4,simY5,simY6,simY7,simY8,simY9,simY10,simY11,simY12]],
  ['#7E2F8E',[simP1,simP2,simP3,simP4,simP5,simP6,simP7,simP8,simP9,simP10,simP11,simP12]],
  ['#77AC30',[simG1,simG2,simG3,simG4,simG5,simG6,simG7,simG8,simG9,simG10,simG11,simG12]],
  ['#4DBEEE',[simL1,simL2,simL3,simL4,simL5,simL6,simL7,simL8,simL9,simL10,simL11,simL12]],
  ['#A2142F',[simR1,simR2,simR3,simR4,simR5,simR6,simR7,simR8,simR9,simR10,simR11,simR12]],
  ['#0072BD',[simB1,simB2,simB3,simB4,simB5,simB6,simB7,simB8,simB9,simB10,simB11,simB12]]
];

const FONT = '"Liberation Sans", Arial, Helvetica, sans-serif';
const INK = '#262626';

const chart = echarts.init(document.getElementById('chart'), null, {renderer:'svg'});

const series = [];
series.push({
  name:'VIX', type:'line', showSymbol:false, symbol:'none', silent:true, animation:false,
  data: histDays.map((d,i)=>[d, histValues[i]]),
  lineStyle:{color:'#0072BD', width:1.3}, z:2
});
for (let i = 11; i >= 0; i--) {
  simGroups.forEach(([col, paths]) => {
    const vals = paths[i];
    const step = (simEndDay - simStartDay) / (vals.length - 1);
    series.push({
      type:'line', showSymbol:false, symbol:'none', silent:true, animation:false,
      data: vals.map((v,k)=>[simStartDay + k*step, v]),
      lineStyle:{color:col, width:1.4}, z:2
    });
  });
}
const nA = Math.min(actualDays.length, actualValues.length);
series.push({
  name:'Actual', type:'line', showSymbol:false, symbol:'none', silent:true, animation:false,
  data: actualDays.slice(0,nA).map((d,i)=>[d, actualValues[i]]),
  lineStyle:{color:'#000000', width:4, type:[10,5,3,5], cap:'butt', join:'miter'}, z:5
});

const tickLbl = v => { const i = monthStarts.indexOf(Math.round(v)); return i >= 0 ? monthLabels[i] : ''; };

chart.setOption({
  animation:false,
  backgroundColor:'#ffffff',
  grid:{left:80, right:27, top:21, bottom:84, containLabel:false},
  xAxis:[{
    type:'value', min:monthStarts[0], max:monthStarts[monthStarts.length-1], position:'bottom',
    name:'Date', nameLocation:'middle', nameGap:55,
    nameTextStyle:{fontSize:28, color:INK, fontFamily:FONT},
    axisLine:{show:true, onZero:false, lineStyle:{color:INK, width:2}},
    axisTick:{show:true, inside:true, length:9, customValues:monthStarts, lineStyle:{color:INK, width:1.5}},
    axisLabel:{show:true, customValues:monthStarts, formatter:tickLbl, fontSize:23, color:INK, fontFamily:FONT, margin:21},
    splitLine:{show:false}
  },{
    type:'value', min:monthStarts[0], max:monthStarts[monthStarts.length-1], position:'top',
    axisLine:{show:true, onZero:false, lineStyle:{color:INK, width:2}},
    axisTick:{show:true, inside:true, length:9, customValues:monthStarts, lineStyle:{color:INK, width:1.5}},
    axisLabel:{show:false},
    splitLine:{show:false}
  }],
  yAxis:[{
    type:'value', min:yTicks.min, max:yTicks.max, interval:yTicks.step, position:'left',
    name:'VIX Prices & Prices simulations', nameLocation:'middle', nameRotate:90, nameGap:44,
    nameTextStyle:{fontSize:29, color:INK, fontFamily:FONT},
    axisLine:{show:true, onZero:false, lineStyle:{color:INK, width:1.5}},
    axisTick:{show:true, inside:true, length:7.5, lineStyle:{color:INK, width:2}},
    axisLabel:{fontSize:23, color:INK, fontFamily:FONT, margin:12},
    splitLine:{show:false}
  },{
    type:'value', min:yTicks.min, max:yTicks.max, interval:yTicks.step, position:'right',
    axisLine:{show:true, onZero:false, lineStyle:{color:INK, width:1.5}},
    axisTick:{show:true, inside:true, length:7.5, lineStyle:{color:INK, width:2}},
    axisLabel:{show:false},
    splitLine:{show:false}
  }],
  series: series
});
</script></body></html>
